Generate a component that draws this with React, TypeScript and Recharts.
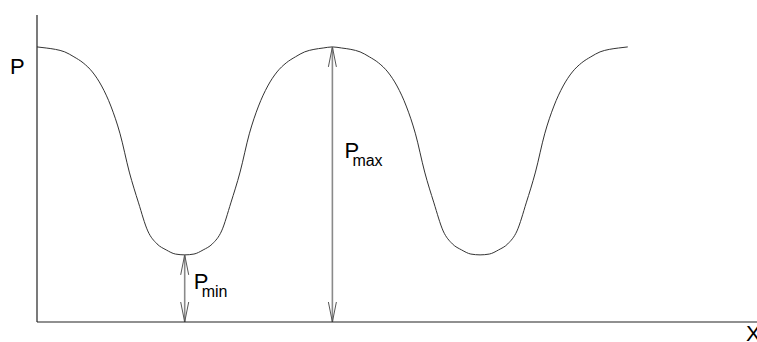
import { ComposedChart, Line, XAxis, YAxis, ReferenceLine } from 'recharts';

// pressure along x in 1/16 half-period steps
const pressure = [
  1.0, 0.996, 0.991, 0.982, 0.964, 0.942, 0.909, 0.858, 0.785, 0.684, 0.545, 0.433, 0.331, 0.284, 0.262, 0.247,
  0.244,
  0.247, 0.262, 0.284, 0.331, 0.433, 0.545, 0.684, 0.785, 0.858, 0.909, 0.942, 0.964, 0.982, 0.991, 0.996,
  1.0,
  0.996, 0.991, 0.982, 0.964, 0.942, 0.909, 0.858, 0.785, 0.684, 0.545, 0.433, 0.331, 0.284, 0.262, 0.247,
  0.244,
  0.247, 0.262, 0.284, 0.331, 0.433, 0.545, 0.684, 0.785, 0.858, 0.909, 0.942, 0.964, 0.982, 0.991, 0.996,
  1.0,
];
const pMinAt = 16;
const pMaxAt = 32;
const xName = 'X';
const yName = 'P';

const data = pressure.map((p, i) => ({ x: i, p }));

const FONT = '"Liberation Sans", Arial, sans-serif';

function DimArrow(props: any) {
  const { x1, y1, y2, sub, labelAt, gap } = props;
  const bottom = Math.max(y1, y2);
  const top = Math.min(y1, y2);
  const base = bottom - labelAt * (bottom - top);
  const head = 20;
  return (
    <g>
      <line x1={x1} y1={top} x2={x1} y2={bottom} stroke="#8a8a8a" strokeWidth={1.6} />
      <polyline
        points={`${x1 - 4},${top + head} ${x1},${top} ${x1 + 4},${top + head}`}
        fill="none"
        stroke="#555"
        strokeWidth={1}
      />
      <polyline
        points={`${x1 - 4},${bottom - head} ${x1},${bottom} ${x1 + 4},${bottom - head}`}
        fill="none"
        stroke="#555"
        strokeWidth={1}
      />
      <text x={x1 + gap} y={base} fontSize={22} fontFamily={FONT} fill="#000">
        P
      </text>
      <text x={x1 + gap + 8} y={base + 8} fontSize={16} fontFamily={FONT} fill="#000">
        {sub}
      </text>
    </g>
  );
}

export default function App() {
  return (
    <div style={{ position: 'absolute', left: 0, top: 0, background: '#fff' }}>
      <ComposedChart
        width={757}
        height={342}
        data={data}
        margin={{ top: 15, right: 0, bottom: 0, left: 0 }}
      >
        <XAxis
          dataKey="x"
          type="number"
          domain={[0, 78]}
          allowDataOverflow
          height={20}
          tick={false}
          tickLine={false}
          axisLine={{ stroke: '#222', strokeWidth: 1.2 }}
          label={{
            content: (p: any) => (
              <text
                x={p.viewBox.x + p.viewBox.width - 11}
                y={p.viewBox.y + 19}
                fontSize={22}
                fontFamily={FONT}
                fill="#000"
              >
                {xName}
              </text>
            ),
          }}
        />
        <YAxis
          type="number"
          domain={[0, 1.116]}
          allowDataOverflow
          width={37}
          tick={false}
          tickLine={false}
          axisLine={{ stroke: '#222', strokeWidth: 1.2 }}
          label={{
            content: (p: any) => (
              <text
                x={p.viewBox.x + 10}
                y={p.viewBox.y + 59}
                fontSize={22}
                fontFamily={FONT}
                fill="#000"
              >
                {yName}
              </text>
            ),
          }}
        />
        <Line
          type="monotone"
          dataKey="p"
          stroke="#333"
          strokeWidth={1}
          dot={false}
          activeDot={false}
          isAnimationActive={false}
        />
        <ReferenceLine
          segment={[
            { x: pMinAt, y: 0 },
            { x: pMinAt, y: pressure[pMinAt] },
          ]}
          shape={(p: any) => <DimArrow {...p} sub="min" labelAt={0.49} gap={9} />}
        />
        <ReferenceLine
          segment={[
            { x: pMaxAt, y: 0 },
            { x: pMaxAt, y: pressure[pMaxAt] },
          ]}
          shape={(p: any) => <DimArrow {...p} sub="max" labelAt={0.596} gap={12} />}
        />
      </ComposedChart>
    </div>
  );
}
